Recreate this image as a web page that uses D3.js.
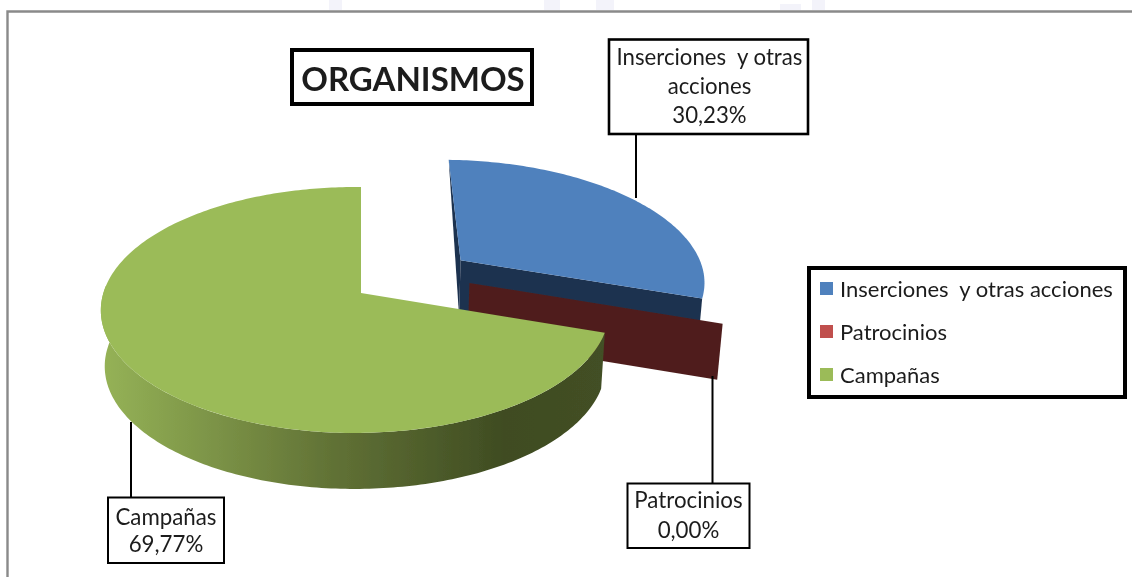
<!DOCTYPE html>
<html><head><meta charset="utf-8">
<script src="https://cdnjs.cloudflare.com/ajax/libs/d3/7.8.5/d3.min.js"></script>
<style>html,body{margin:0;padding:0;background:#fff;overflow:hidden}svg{display:block}text{font-family:Lato,"Open Sans",sans-serif;white-space:pre}</style>
</head><body><svg id="c" width="1132" height="577"></svg>
<script>
const categories = ["Inserciones  y otras acciones", "Patrocinios", "Campañas"];
const values = [30.23, 0.00, 69.77];
const legendColors = ["#4f81bd", "#c0504d", "#9bbb59"];
const titleText = "ORGANISMOS";
const labelLines = [["Inserciones  y otras", "acciones"], ["Patrocinios"], ["Campañas"]];

const svg = d3.select("#c");
const defs = svg.append("defs");
defs.append("filter").attr("id","soft").attr("x","-5%").attr("y","-5%").attr("width","110%").attr("height","110%")
  .append("feGaussianBlur").attr("stdDeviation",0.45);
const g = svg.append("g").attr("filter","url(#soft)");

// faint background fragments above the frame
[[329,13,0],[544,16,0],[596,18,0],[780,21,4],[812,13,0]].forEach(([x,w,y])=>
  g.append("rect").attr("x",x).attr("y",y).attr("width",w).attr("height",10-y).attr("fill","#f3f3fa"));
// frame
g.append("path").attr("d","M7.5,577V11.5H1132").attr("fill","none").attr("stroke","#8a8a8a").attr("stroke-width",2.4);

// 3D pie projection
const cx=361, cy=293, R=251.7, H=120.6, p=0.138, q=0.023, depth=56, shrink=0.985;
function proj(u,v,low){
  const w=1+p*v+q*u;
  let x=cx+R*u/w, y=cy-H*v/w;
  if(low){ x=cx+(x-cx)*shrink; y=y+depth; }
  return [x,y];
}
const pie=d3.pie().sort(null).value(d=>d)(values);
const line=d3.line();
const explode=[[0.415,0.285],[0.44,0.085],[0,0]];
const rimScale=[1.03,1.05,1];
function rim(i,a,low){ const rs=rimScale[i],[du,dv]=explode[i]; return proj(du+rs*Math.sin(a),dv+rs*Math.cos(a),low); }
function arcPts(i,a0,a1,low){ const n=Math.max(2,Math.ceil(Math.abs(a1-a0)*60));
  return d3.range(n+1).map(k=>rim(i,a0+(a1-a0)*k/n,low)); }
function apex(i,low){ return proj(explode[i][0],explode[i][1],low); }

// blue slice
const b=pie[0];
g.append("path").attr("d",line([rim(0,b.startAngle,false),apex(0,false),apex(0,true)])+"Z").attr("fill","#1f3350");
g.append("path").attr("d",line([apex(0,false),rim(0,b.endAngle,false),rim(0,b.endAngle,true),apex(0,true)])+"Z").attr("fill","#1f3350");
g.append("path").attr("d",line([apex(0,false),...arcPts(0,b.startAngle,b.endAngle,false)])+"Z").attr("fill","#4f81bd");

// zero-width red slice is only its cut wall
const r=pie[1];
g.append("path").attr("d",line([apex(1,false),rim(1,r.startAngle,false),rim(1,r.startAngle,true),apex(1,true)])+"Z").attr("fill","#4f1f1d");

// green slice
const c=pie[2];
const grad=defs.append("linearGradient").attr("id","wall").attr("gradientUnits","userSpaceOnUse")
  .attr("x1",100).attr("x2",605).attr("y1",0).attr("y2",0);
[[0,"#96b356"],[0.1,"#8aa550"],[0.45,"#627336"],[0.8,"#3f4c22"],[1,"#434f25"]].forEach(([o,col])=>
  grad.append("stop").attr("offset",o).attr("stop-color",col));
const wa0=c.startAngle, wa1=Math.PI*1.52;
g.append("path").attr("d",line([...arcPts(2,wa0,wa1,false),...arcPts(2,wa1,wa0,true)])+"Z").attr("fill","url(#wall)");
g.append("path").attr("d",line([apex(2,false),...arcPts(2,c.startAngle,c.endAngle,false)])+"Z").attr("fill","#9bbb59");

// boxes
function box(x0,y0,x1,y1,sw){ g.append("rect").attr("x",x0).attr("y",y0).attr("width",x1-x0).attr("height",y1-y0)
  .attr("fill","#fff").attr("stroke","#000").attr("stroke-width",sw); }
function txt(x,y,s,size,anchor,weight){ g.append("text").attr("x",x).attr("y",y).attr("font-size",size)
  .attr("text-anchor",anchor||"middle").attr("font-weight",weight||400).attr("fill","#1c1c1c").text(s); }
function leader(x,y0,y1){ g.append("line").attr("x1",x).attr("x2",x).attr("y1",y0).attr("y2",y1).attr("stroke","#000").attr("stroke-width",2); }

// title
box(292,50,532,104,4);
txt(413,91,titleText,33,"middle",700);

// data labels
const pct=v=>d3.format(".2f")(v).replace(".",",")+"%";
leader(636,134,198); leader(712.5,376,484); leader(131,422,498);
box(609,39.5,808,134,2.6);
txt(709.5,65,labelLines[0][0],22.2); txt(709.5,94,labelLines[0][1],22.2); txt(709.5,123,pct(values[0]),22.2);
box(627.5,483.5,749.5,548,2);
txt(688.5,508,labelLines[1][0],22.3); txt(688.5,538,pct(values[1]),22.3);
box(108,497.5,224,563,2);
txt(166,525,labelLines[2][0],22.3); txt(166,552,pct(values[2]),22.3);

// legend
box(809,268,1125,397,4);
const rowY=d3.scalePoint().domain(categories).range([289,375]);
categories.forEach((cat,i)=>{
  const y=rowY(cat);
  g.append("rect").attr("x",820).attr("y",y-7).attr("width",13).attr("height",13).attr("fill",legendColors[i]);
  txt(840,y+7.5,cat,22,"start");
});
</script></body></html>
